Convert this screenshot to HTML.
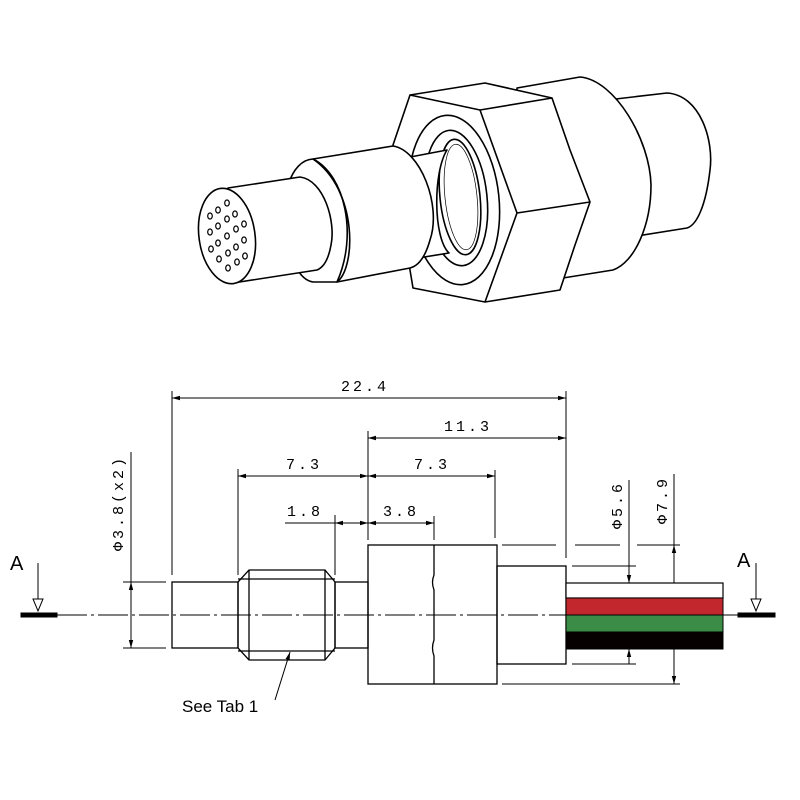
<!DOCTYPE html>
<html><head><style>body{margin:0;background:#fff}svg{display:block}</style></head>
<body>
<svg width="800" height="800" viewBox="0 0 800 800" xmlns="http://www.w3.org/2000/svg">
<defs>
<marker id="ar" markerWidth="8" markerHeight="6" refX="8" refY="3" orient="auto-start-reverse" markerUnits="userSpaceOnUse"><path d="M0,0.8 L8,3 L0,5.2 z" fill="#000"/></marker>
</defs>
<rect width="800" height="800" fill="#fff"/>
<g fill="#fff" stroke="#000" stroke-width="1.6" stroke-linejoin="round">
 <!-- rear small cylinder -->
 <path d="M590,102 L667,93 C700,95 714,140 710,170 C706,205 697,225 687,228 L600,242 Z"/>
 <!-- rear ring -->
 <path d="M517,88 L580,77 C615,80 650,140 651,185 C651,225 635,262 613,270 L563,278 L517,213 Z"/>
 <!-- hex nut -->
 <path d="M410,95 L485,83 L552,98 L570,150 L590,202 L575,245 L560,290 L485,302 L413,288 L410,270 L393,145 Z"/>
 <path d="M410,95 L480,110 L552,98 M480,110 L517,213 L590,202 M517,213 L485,302" fill="none"/>
 <!-- washer -->
 <ellipse cx="454" cy="200" rx="45" ry="85" transform="rotate(-6 454 200)"/>
 <ellipse cx="456" cy="198" rx="31" ry="68" transform="rotate(-6 456 198)"/>
 <ellipse cx="460" cy="197" rx="20" ry="58" transform="rotate(-6 460 197)"/>
 <ellipse cx="461" cy="197" rx="16" ry="53" transform="rotate(-6 461 197)" stroke-width="0.7"/>
 <!-- thin shaft -->
 <path d="M405,158 L447,150 C433,172 433,238 449,253 L412,259 Z"/>
 <!-- main cylinder -->
 <path d="M313,159 L393,146 C420,150 442,205 430,240 C425,258 418,266 410,268 L337,282 Z"/>
 <!-- collar -->
 <path d="M313,159 C290,160 280,200 285,230 C290,262 300,280 313,282 L337,282 C356,268 358,190 313,159 Z"/>
 <path d="M313,159 C345,175 358,235 337,282" fill="none"/>
 <!-- front cylinder -->
 <path d="M228,188 L300,177 C324,180 336,222 331,245 C328,262 322,268 317,270 L233,283 Z"/>
 <ellipse cx="227" cy="236" rx="28" ry="48" transform="rotate(-8 227 236)"/>
</g>
<g fill="none" stroke="#000" stroke-width="1.2">
 <ellipse cx="227" cy="203" rx="2.3" ry="3"/><ellipse cx="218" cy="210" rx="2.3" ry="3"/><ellipse cx="210" cy="216" rx="2.3" ry="3"/>
 <ellipse cx="235" cy="214" rx="2.3" ry="3"/><ellipse cx="227" cy="219" rx="2.3" ry="3"/><ellipse cx="218" cy="226" rx="2.3" ry="3"/><ellipse cx="210" cy="232" rx="2.3" ry="3"/>
 <ellipse cx="244" cy="224" rx="2.3" ry="3"/><ellipse cx="236" cy="229" rx="2.3" ry="3"/><ellipse cx="227" cy="236" rx="2.3" ry="3"/><ellipse cx="218" cy="243" rx="2.3" ry="3"/><ellipse cx="211" cy="249" rx="2.3" ry="3"/>
 <ellipse cx="244" cy="240" rx="2.3" ry="3"/><ellipse cx="236" cy="247" rx="2.3" ry="3"/><ellipse cx="228" cy="253" rx="2.3" ry="3"/><ellipse cx="219" cy="259" rx="2.3" ry="3"/>
 <ellipse cx="245" cy="256" rx="2.3" ry="3"/><ellipse cx="237" cy="262" rx="2.3" ry="3"/><ellipse cx="228" cy="268" rx="2.3" ry="3"/>
</g>

<!-- 2D drawing -->
<g stroke="#000" fill="none" stroke-width="1.3">
 <line x1="57" y1="615" x2="738" y2="615" stroke-width="1" stroke-dasharray="30,4,3,4"/>
 <rect x="172" y="582" width="66" height="66"/>
 <path d="M238,582 L249,570 L325,570 L335,582 L335,648 L325,660 L249,660 L238,648 Z"/>
 <path d="M249,570 V660 M325,570 V660 M238,579 H335 M238,651 H335"/>
 <rect x="335" y="582" width="33" height="66"/>
 <rect x="368" y="545" width="129" height="139"/>
 <path d="M434,545 V575 Q431,582 434,590 V640 Q431,648 434,656 V684"/>
 <rect x="497" y="566" width="69" height="98"/>
</g>
<rect x="566" y="583" width="157" height="15" fill="#fff" stroke="#000" stroke-width="1.2"/>
<rect x="566" y="598" width="157" height="17" fill="#c1272d" stroke="#000" stroke-width="1"/>
<rect x="566" y="615" width="157" height="17" fill="#3a8c46" stroke="#000" stroke-width="1"/>
<rect x="566" y="632" width="157" height="17" fill="#060000" stroke="#000" stroke-width="1"/>

<g stroke="#000" stroke-width="1">
 <rect x="21" y="613" width="36" height="4" fill="#000"/>
 <rect x="738" y="613" width="37" height="4" fill="#000"/>
 <line x1="38" y1="563" x2="38" y2="599"/><path d="M33,599 L43,599 L38,611 Z" fill="#fff"/>
 <line x1="756" y1="563" x2="756" y2="599"/><path d="M751,599 L761,599 L756,611 Z" fill="#fff"/>
 <path d="M123,582 H166 M123,648 H166 M172,391 V575 M238,469 V575 M335,515 V575 M368,431 V540 M434,516 V540 M495,470 V538 M566,391 V558" fill="none"/>
 <path d="M502,545 H556 M575,545 H620 M637,545 H680 M572,566 H636 M572,664 H636 M502,684 H680" fill="none"/>
 <line x1="172" y1="398" x2="566" y2="398" marker-start="url(#ar)" marker-end="url(#ar)"/>
 <line x1="368" y1="438" x2="566" y2="438" marker-start="url(#ar)" marker-end="url(#ar)"/>
 <line x1="238" y1="476" x2="368" y2="476" marker-start="url(#ar)" marker-end="url(#ar)"/>
 <line x1="368" y1="476" x2="495" y2="476" marker-start="url(#ar)" marker-end="url(#ar)"/>
 <line x1="285" y1="523" x2="335" y2="523"/>
 <line x1="335" y1="523" x2="368" y2="523" marker-start="url(#ar)" marker-end="url(#ar)"/>
 <line x1="368" y1="523" x2="434" y2="523" marker-start="url(#ar)" marker-end="url(#ar)"/>
 <line x1="131" y1="452" x2="131" y2="648"/>
 <line x1="131" y1="582" x2="131" y2="648" marker-start="url(#ar)" marker-end="url(#ar)"/>
 <line x1="629" y1="480" x2="629" y2="583" marker-end="url(#ar)"/>
 <line x1="629" y1="664" x2="629" y2="649" marker-end="url(#ar)"/>
 <line x1="674" y1="474" x2="674" y2="583"/>
 <line x1="674" y1="560" x2="674" y2="545" marker-end="url(#ar)"/>
 <line x1="674" y1="649" x2="674" y2="684" marker-end="url(#ar)"/>
 <line x1="275" y1="700" x2="290" y2="652" marker-end="url(#ar)"/>
</g>
<g font-family="Liberation Mono, monospace" font-size="15" letter-spacing="3" fill="#000" text-anchor="middle">
 <text x="365" y="391">22.4</text>
 <text x="468" y="431">11.3</text>
 <text x="304" y="469">7.3</text>
 <text x="432" y="469">7.3</text>
 <text x="305" y="516">1.8</text>
 <text x="401" y="516">3.8</text>
 <text transform="translate(123,503) rotate(-90)">Φ3.8(x2)</text>
 <text transform="translate(622,505) rotate(-90)">Φ5.6</text>
 <text transform="translate(667,500) rotate(-90)">Φ7.9</text>
</g>
<g font-family="Liberation Sans, sans-serif" fill="#000">
 <text x="10" y="570" font-size="20">A</text>
 <text x="737" y="567" font-size="20">A</text>
 <text x="182" y="712" font-size="17">See Tab 1</text>
</g>
</svg>
</body></html>
